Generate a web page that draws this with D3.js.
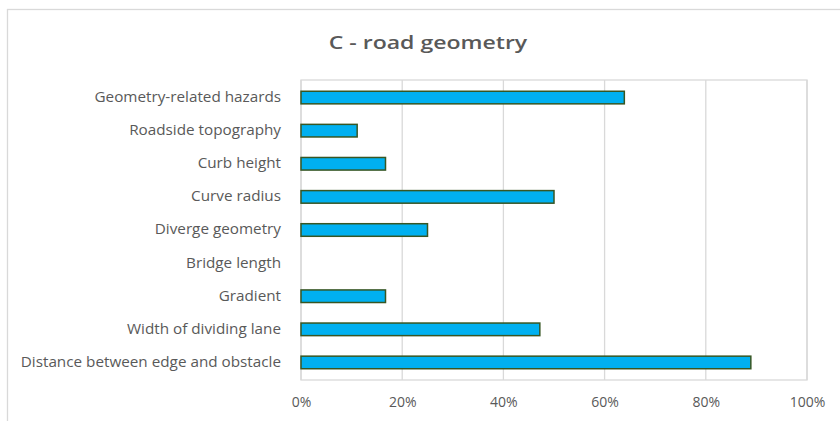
<!DOCTYPE html>
<html>
<head>
<meta charset="utf-8">
<script src="https://cdn.jsdelivr.net/npm/d3@7"></script>
<style>
  body { margin: 0; background: #fff; }
  text { font-family: "Open Sans", Lato, sans-serif; }
</style>
</head>
<body>
<div id="chart"></div>
<script>
// Data (share of responses)
let categories = [
    "Geometry-related hazards",
    "Roadside topography",
    "Curb height",
    "Curve radius",
    "Diverge geometry",
    "Bridge length",
    "Gradient",
    "Width of dividing lane",
    "Distance between edge and obstacle"
];
let values = [0.639, 0.111, 0.167, 0.50, 0.25, 0, 0.167, 0.472, 0.889];
let xTicks = [0, 0.2, 0.4, 0.6, 0.8, 1];
let title = "C - road geometry";

let W = 840, H = 421;
let margin = { top: 80, right: 33, bottom: 41, left: 301 },
    width = W - margin.left - margin.right,
    height = H - margin.top - margin.bottom;

// the source picture is a little stretched sideways, widen text to suit
function widen(sel, k) {
    sel.each(function () {
        let w = this.getComputedTextLength();
        d3.select(this)
            .attr('textLength', w * k)
            .attr('lengthAdjust', 'spacingAndGlyphs');
    });
}

let svg = d3.select('#chart')
    .append('svg')
    .attr('width', W)
    .attr('height', H);

// outer chart frame (runs off the right and bottom of the picture)
svg.append('rect')
    .attr('x', 7.5)
    .attr('y', 9.5)
    .attr('width', W + 20)
    .attr('height', H + 20)
    .attr('fill', 'none')
    .attr('stroke', '#d9d9d9')
    .attr('stroke-width', 1.3);

svg.append('text')
    .attr('x', 428)
    .attr('y', 48.5)
    .attr('text-anchor', 'middle')
    .attr('font-size', 18)
    .attr('font-weight', 600)
    .attr('fill', '#595959')
    .text(title)
    .call(widen, 1.28);

let g = svg.append('g')
    .attr('transform', 'translate(' + margin.left + ',' + margin.top + ')');

let x = d3.scaleLinear().domain([0, 1]).range([0, width]);
let y = d3.scaleBand().domain(categories).range([0, height])
    .paddingInner(0.62).paddingOuter(0.34);

// gridlines
g.selectAll('.grid')
    .data(xTicks)
    .enter()
    .append('line')
    .attr('x1', function (d) { return x(d); })
    .attr('x2', function (d) { return x(d); })
    .attr('y1', 0)
    .attr('y2', height)
    .attr('stroke', '#d9d9d9')
    .attr('stroke-width', 1.3);

// plot area border
g.append('rect')
    .attr('x', 0)
    .attr('y', 0)
    .attr('width', width)
    .attr('height', height)
    .attr('fill', 'none')
    .attr('stroke', '#d9d9d9')
    .attr('stroke-width', 1.3);

// bars
g.selectAll('.bar')
    .data(values)
    .enter()
    .append('rect')
    .attr('class', 'bar')
    .attr('x', x(0))
    .attr('y', function (d, i) { return y(categories[i]); })
    .attr('width', function (d) { return x(d) - x(0); })
    .attr('height', y.bandwidth())
    .attr('fill', '#00b0f0')
    .attr('stroke', function (d) { return d > 0 ? '#375623' : 'none'; })
    .attr('stroke-width', 1.5);

// x axis
let xAxis = g.append('g')
    .attr('transform', 'translate(0,' + height + ')')
    .call(d3.axisBottom(x).tickValues(xTicks).tickFormat(d3.format('.0%')).tickSize(0).tickPadding(17));
xAxis.select('.domain').remove();
xAxis.selectAll('text')
    .attr('font-size', 14)
    .attr('fill', '#595959')
    .style('font-family', '"Open Sans", sans-serif');

// y axis
let yAxis = g.append('g')
    .call(d3.axisLeft(y).tickSize(0).tickPadding(20));
yAxis.select('.domain').remove();
yAxis.selectAll('text')
    .attr('font-size', 14)
    .attr('fill', '#595959')
    .style('font-family', '"Open Sans", sans-serif')
    .call(widen, 1.09);
</script>
</body>
</html>
